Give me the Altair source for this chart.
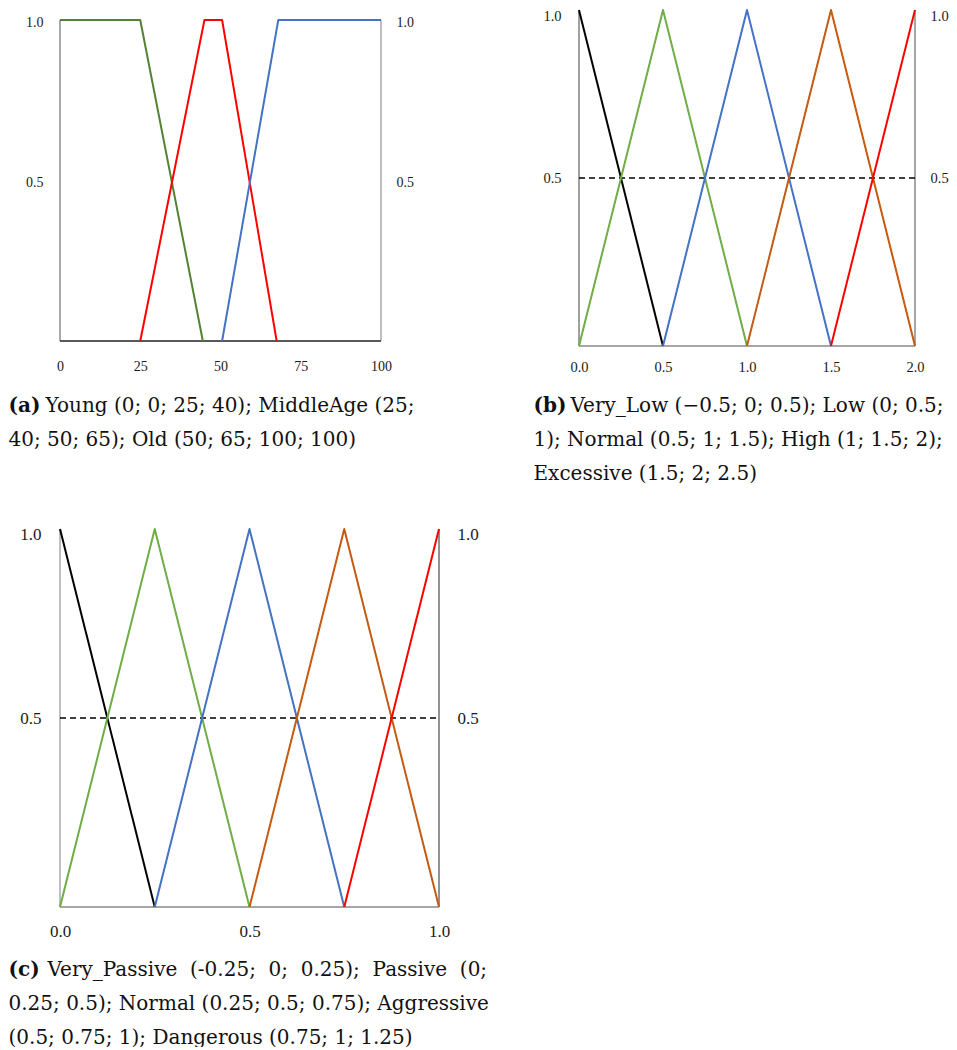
import altair as alt
import pandas as pd

# ---------------- data ----------------
# Panel (a): Age
a_names = ["Young", "MiddleAge", "Old"]
a_colors = ["#548235", "#ff0000", "#4472c4"]
a_young_x = [0, 25, 44.5]
a_young_y = [1, 1, 0]
a_middle_x = [25, 45, 50.5, 67.5]
a_middle_y = [0, 1, 1, 0]
a_old_x = [50.5, 68, 100]
a_old_y = [0, 1, 1]
a_x_ticks = [0, 25, 50, 75, 100]
a_caption = ["(a)", "Young (0; 0; 25; 40); MiddleAge (25;",
             ["40; 50; 65); Old (50; 65; 100; 100)"]]

# Panel (b)
b_names = ["Very_Low", "Low", "Normal", "High", "Excessive"]
b_colors = ["#000000", "#70ad47", "#4472c4", "#c55a11", "#ff0000"]
b_very_low_x = [0, 0.5]
b_very_low_y = [1, 0]
b_low_x = [0, 0.5, 1]
b_low_y = [0, 1, 0]
b_normal_x = [0.5, 1, 1.5]
b_normal_y = [0, 1, 0]
b_high_x = [1, 1.5, 2]
b_high_y = [0, 1, 0]
b_excessive_x = [1.5, 2]
b_excessive_y = [0, 1]
b_x_ticks = [0, 0.5, 1.0, 1.5, 2.0]
b_caption = ["(b)", "Very_Low (\u22120.5; 0; 0.5); Low (0; 0.5;",
             ["1); Normal (0.5; 1; 1.5); High (1; 1.5; 2);",
              "Excessive (1.5; 2; 2.5)"]]

# Panel (c)
c_names = ["Very_Passive", "Passive", "Normal", "Aggressive", "Dangerous"]
c_colors = ["#000000", "#70ad47", "#4472c4", "#c55a11", "#ff0000"]
c_very_passive_x = [0, 0.25]
c_very_passive_y = [1, 0]
c_passive_x = [0, 0.25, 0.5]
c_passive_y = [0, 1, 0]
c_normal_x = [0.25, 0.5, 0.75]
c_normal_y = [0, 1, 0]
c_aggressive_x = [0.5, 0.75, 1]
c_aggressive_y = [0, 1, 0]
c_dangerous_x = [0.75, 1]
c_dangerous_y = [0, 1]
c_x_ticks = [0, 0.5, 1.0]
c_caption = ["(c)", "Very_Passive\u00a0 (-0.25;\u00a0 0;\u00a0 0.25);\u00a0 Passive\u00a0 (0;",
             ["0.25; 0.5); Normal (0.25; 0.5; 0.75); Aggressive",
              "(0.5; 0.75; 1); Dangerous (0.75; 1; 1.25)"]]

y_ticks = [0.5, 1.0]
half_level = 0.5

LABEL_FONT = "Liberation Serif"
CAP_FONT = "DejaVu Serif"
CAP_SIZE = 20
LINE_H = 34


def long_df(names, xs, ys):
    rows = []
    for n, xx, yy in zip(names, xs, ys):
        for i, (u, v) in enumerate(zip(xx, yy)):
            rows.append({"set": n, "x": u, "mu": v, "i": i})
    return pd.DataFrame(rows)


def panel(df, names, colors, xdom, xticks, xfmt, ydom, w, h, frame, dashed,
          lab, cap, cap_pos):
    xs = alt.Scale(domain=xdom, nice=False, zero=False)
    ys = alt.Scale(domain=ydom, nice=False, zero=False)
    x0, x1 = xdom
    (lc, lw), (rc, rw), (bc, bw) = frame

    x_axis = alt.Axis(orient="bottom", values=xticks, format=xfmt, ticks=False,
                      tickSize=0, domain=False, grid=False, labelAngle=0,
                      labelFlush=False,
                      labelFont=LABEL_FONT, labelFontSize=lab["fs"],
                      labelColor="#1a1a1a", labelPadding=lab["xpad"],
                      title=cap[0], titleFont=CAP_FONT, titleFontSize=CAP_SIZE,
                      titleFontWeight="bold", titleColor="#111111",
                      titleAlign="left", titleBaseline="alphabetic",
                      titleX=cap_pos[0][0], titleY=cap_pos[0][1])
    left_kw = dict(orient="left", values=y_ticks, format=".1f", ticks=False,
                   tickSize=0, domain=False, grid=False,
                   labelFont=LABEL_FONT, labelFontSize=lab["fs"],
                   labelColor="#1a1a1a", labelPadding=lab["lpad"],
                   title=cap[1], titleFont=CAP_FONT, titleFontSize=CAP_SIZE,
                   titleFontWeight="normal", titleColor="#111111",
                   titleAngle=0, titleAlign="left", titleBaseline="alphabetic",
                   titleX=cap_pos[1][0], titleY=cap_pos[1][1])
    right_kw = dict(orient="right", values=y_ticks, format=".1f", ticks=False,
                    tickSize=0, domain=False, grid=False,
                    labelFont=LABEL_FONT, labelFontSize=lab["fs"],
                    labelColor="#1a1a1a", labelPadding=lab["rpad"],
                    title=cap[2], titleFont=CAP_FONT, titleFontSize=CAP_SIZE,
                    titleFontWeight="normal", titleColor="#111111",
                    titleAngle=0, titleAlign="left", titleBaseline="alphabetic",
                    titleLineHeight=LINE_H,
                    titleX=cap_pos[2][0], titleY=cap_pos[2][1])
    for kw in (left_kw, right_kw):
        if lab.get("flush") is not None:
            kw["labelFlush"] = True
            kw["labelFlushOffset"] = lab["flush"]
        else:
            kw["labelFlush"] = False
        if lab.get("yoff"):
            kw["labelOffset"] = lab["yoff"]
    left_axis = alt.Axis(**left_kw)
    right_axis = alt.Axis(**right_kw)

    vert = pd.DataFrame({"x": [x0, x1], "y": [ydom[0], ydom[0]], "y2": [1.0, 1.0]})
    horiz = pd.DataFrame({"x": [x0], "x2": [x1], "y": [0.0]})

    def X(field="x:Q"):
        return alt.X(field, scale=xs, axis=x_axis)

    lines = alt.Chart(df).mark_line(strokeWidth=2, strokeJoin="round").encode(
        x=X(),
        y=alt.Y("mu:Q", scale=ys, axis=left_axis),
        color=alt.Color("set:N", scale=alt.Scale(domain=names, range=colors),
                        legend=None),
        order=alt.Order("i:Q"))
    right_rule = alt.Chart(vert.iloc[[1]]).mark_rule(
        color=rc, strokeWidth=rw, strokeJoin="round").encode(
        x=X(), y=alt.Y("y:Q", scale=ys, axis=right_axis), y2="y2:Q")
    left_rule = alt.Chart(vert.iloc[[0]]).mark_rule(
        color=lc, strokeWidth=lw, strokeJoin="round").encode(
        x=X(), y=alt.Y("y:Q", scale=ys, axis=None), y2="y2:Q")
    bottom_rule = alt.Chart(horiz).mark_rule(
        color=bc, strokeWidth=bw, strokeJoin="round").encode(
        x=X(), x2="x2:Q", y=alt.Y("y:Q", scale=ys, axis=None))
    layers = [left_rule, right_rule, bottom_rule]
    if dashed:
        dash_df = pd.DataFrame({"x": [x0], "x2": [x1], "y": [half_level]})
        layers.append(alt.Chart(dash_df).mark_rule(
            color="#000000", strokeWidth=1.5, strokeDash=[6, 4]).encode(
            x=X(), x2="x2:Q", y=alt.Y("y:Q", scale=ys, axis=None)))
    layers.append(lines)
    return alt.layer(*layers).resolve_axis(y="independent").properties(
        width=w, height=h)


df_a = long_df(a_names, [a_young_x, a_middle_x, a_old_x],
               [a_young_y, a_middle_y, a_old_y])
df_b = long_df(b_names, [b_very_low_x, b_low_x, b_normal_x, b_high_x, b_excessive_x],
               [b_very_low_y, b_low_y, b_normal_y, b_high_y, b_excessive_y])
df_c = long_df(c_names, [c_very_passive_x, c_passive_x, c_normal_x,
                         c_aggressive_x, c_dangerous_x],
               [c_very_passive_y, c_passive_y, c_normal_y, c_aggressive_y,
                c_dangerous_y])

pa = panel(df_a, a_names, a_colors, [0, 100], a_x_ticks, "d",
           [0, 1 + 10 / 321], 321, 331,
           [("#8c8c8c", 1.5), ("#bfbfbf", 2), ("#595959", 2)], False,
           {"fs": 14, "xpad": 18, "lpad": 17, "rpad": 15, "yoff": 2},
           a_caption, [(-52, 70), (-15, 401), (-373, 435)])
pb = panel(df_b, b_names, b_colors, [0, 2], b_x_ticks, ".1f",
           [0, 1], 336, 336,
           [("#404040", 1), ("#a6a6a6", 2), ("#a6a6a6", 2)], True,
           {"fs": 14.5, "xpad": 14, "lpad": 18, "rpad": 15, "flush": 1},
           b_caption, [(-46, 65), (-9, 401), (-382, 435)])
pc = panel(df_c, c_names, c_colors, [0, 1], c_x_ticks, ".1f",
           [0, 1], 379, 378,
           [("#7f7f7f", 1), ("#262626", 1), ("#a6a6a6", 2)], True,
           {"fs": 17, "xpad": 16, "lpad": 19, "rpad": 18, "flush": 3},
           c_caption, [(-52, 68), (-13, 446), (-431, 480)])

chart = alt.concat(pa, pb, pc, columns=2, spacing={"row": 183, "column": 140},
                   bounds="flush", align="each").resolve_scale(
    color="independent").properties(padding=0).configure_view(strokeWidth=0)

chart.save("out.html", embed_options={"renderer": "svg", "actions": False})
